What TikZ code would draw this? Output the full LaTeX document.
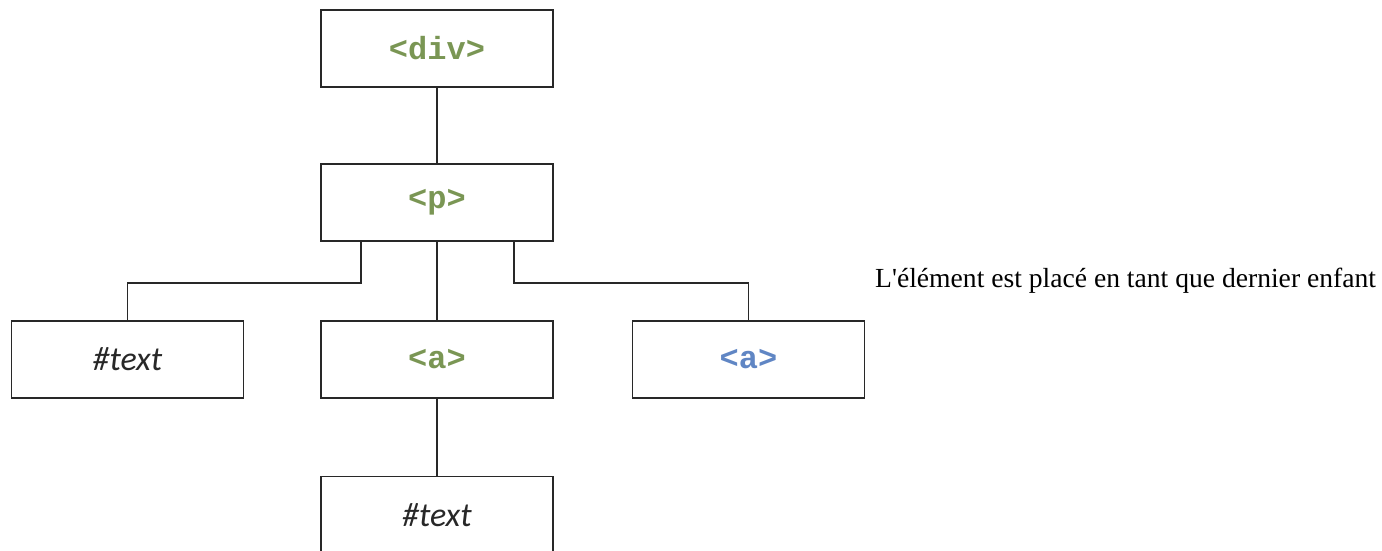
\documentclass[tikz,border=0pt]{standalone}
\usepackage{fontspec}
\setmainfont{Liberation Serif}
\newfontfamily\codefont{Liberation Mono}
\newfontfamily\labelfont{Carlito}
\usetikzlibrary{positioning}
\definecolor{taggreen}{RGB}{122,150,84}
\definecolor{tagblue}{RGB}{96,134,196}
\definecolor{boxline}{RGB}{40,40,40}
\begin{document}
\begin{tikzpicture}[x=1pt,y=-1pt]
\tikzstyle{every node}=[inner sep=0pt]
\tikzstyle{elem}=[draw=boxline, line width=1.8pt, rectangle, minimum width=232pt, minimum height=77pt]
\tikzstyle{tag}=[font=\codefont\bfseries\fontsize{32}{32}\selectfont]
\tikzstyle{txt}=[font=\labelfont\itshape\fontsize{34}{34}\selectfont, text=boxline]
\useasboundingbox (0,0) rectangle (1382,551);
\node (div) [elem, tag, text=taggreen] at (437,48.5) {<div>};
\node (p) [elem, tag, text=taggreen] at (437,202.5) {<p>};
\node (text1) [elem, txt] at (127.5,359.5) {\#text};
\node (a1) [elem, tag, text=taggreen] at (437,359.5) {<a>};
\node (a2) [elem, tag, text=tagblue] at (748.5,359.5) {<a>};
\node (text2) [elem, txt] at (437,515) {\#text};
\node (note) [anchor=base west, font=\fontsize{27.6}{27.6}\selectfont] at (875,287) {L\textquotesingle élément est placé en tant que dernier enfant};
\draw [draw=boxline, line width=1.8pt] (div) -- (p);
\draw [draw=boxline, line width=1.8pt] (p) -- (a1);
\draw [draw=boxline, line width=1.8pt] (a1) -- (text2);
\draw [draw=boxline, line width=1.8pt] ([xshift=-76pt]p.south) -- ++(0,41) -| (text1);
\draw [draw=boxline, line width=1.8pt] ([xshift=77pt]p.south) -- ++(0,41) -| (a2);
\end{tikzpicture}
\end{document}
